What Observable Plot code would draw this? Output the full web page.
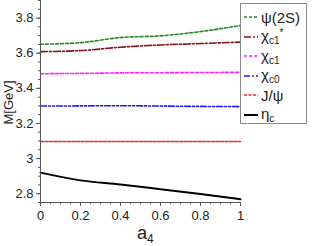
<!DOCTYPE html>
<html><head><meta charset="utf-8">
<script src="https://cdn.jsdelivr.net/npm/d3@7"></script>
<script src="https://cdn.jsdelivr.net/npm/@observablehq/plot@0.6"></script>
<style>
body{margin:0;background:#fff;font-family:"Liberation Sans",Arial,sans-serif;}
#wrap{position:relative;width:316px;height:246px;}
#legend{position:absolute;left:240px;top:3px;width:67px;height:121px;border:1px solid #8a8a8a;background:#fff;box-sizing:border-box;}
.row{position:absolute;left:0;height:20px;display:flex;align-items:center;font-size:15px;color:#222;white-space:nowrap;}
.row svg{margin-left:3px;margin-right:3px;}
.row sub{font-size:10px;vertical-align:-3px;}
.row sup{font-size:10px;vertical-align:5px;}
#xlab{position:absolute;left:137px;top:223px;font-size:18px;color:#222;}
#xlab sub{font-size:12px;vertical-align:-4px;}
#ylab{position:absolute;left:-22px;top:95px;height:15px;line-height:15px;font-size:13px;color:#222;transform:rotate(-90deg);transform-origin:center;width:60px;text-align:center;}
</style></head><body>
<div id="wrap"></div>
<script>
const xs = [0, 0.2, 0.4, 0.6, 0.8, 1];
const psi2S = [3.651, 3.660, 3.689, 3.699, 3.723, 3.758];
const chic1star = [3.609, 3.615, 3.634, 3.647, 3.655, 3.663];
const chic1 = [3.483, 3.485, 3.488, 3.489, 3.490, 3.491];
const chic0 = [3.299, 3.300, 3.301, 3.299, 3.297, 3.296];
const jpsi = [3.097, 3.097, 3.097, 3.097, 3.097, 3.097];
const etac = [2.920, 2.876, 2.853, 2.826, 2.798, 2.769];
const seriesNames = ["ψ(2S)", "χc1*", "χc1", "χc0", "J/ψ", "ηc"];
const seriesLabels = ["ψ(2S)", "χ<sub>c1</sub><sup>*</sup>", "χ<sub>c1</sub>", "χ<sub>c0</sub>", "J/ψ", "η<sub>c</sub>"];
const seriesValues = [psi2S, chic1star, chic1, chic0, jpsi, etac];
const colors = ["#1f8a1f", "#8b1010", "#ff22ff", "#1a1aff", "#ff2020", "#000000"];
const dashes = ["3,2", "7,2,2,2", "3,2", "6,2,2,2,2,2", "3,1.5", null];
const xTicks = [0, 0.2, 0.4, 0.6, 0.8, 1];
const yTicks = [2.8, 3, 3.2, 3.4, 3.6, 3.8];
const xMinor = d3.range(0, 1.0001, 0.05).map(v => +v.toFixed(2));
const yMinor = d3.range(2.75, 3.9001, 0.05).map(v => +v.toFixed(2));

const marks = [];
seriesValues.forEach((vals, i) => {
  const data = xs.map((x, j) => ({x, y: vals[j]}));
  marks.push(Plot.line(data, {x: "x", y: "y", curve: "monotone-x", stroke: colors[i],
    strokeWidth: i === 5 ? 2 : 1.6, strokeDasharray: dashes[i] || undefined}));
});
marks.push(Plot.axisX(xMinor, {tickSize: 2, text: null, label: null, stroke: "#555"}));
marks.push(Plot.axisY(yMinor, {tickSize: 2, text: null, label: null, stroke: "#555"}));
marks.push(Plot.axisX(xTicks, {tickSize: 4, tickPadding: 4, fontSize: 13, stroke: "#555", fill: "#222",
  tickFormat: d => String(d), label: null}));
marks.push(Plot.axisY(yTicks, {tickSize: 4, tickPadding: 3, fontSize: 13, stroke: "#555", fill: "#222",
  tickFormat: d => String(d), label: null}));
marks.push(Plot.ruleX([0], {stroke: "#555"}));
marks.push(Plot.ruleY([2.75], {stroke: "#555"}));

const chart = Plot.plot({
  width: 316, height: 246,
  marginLeft: 40, marginRight: 76, marginTop: 0, marginBottom: 44,
  x: {domain: [0, 1]},
  y: {domain: [2.75, 3.9]},
  style: {fontFamily: "Liberation Sans, Arial, sans-serif", fontSize: "13px", color: "#222"},
  marks
});
const wrap = document.getElementById("wrap");
wrap.appendChild(chart);

const xl = document.createElement("div");
xl.id = "xlab"; xl.innerHTML = "a<sub>4</sub>";
wrap.appendChild(xl);
const yl = document.createElement("div");
yl.id = "ylab"; yl.textContent = "M[GeV]";
wrap.appendChild(yl);

const leg = document.createElement("div");
leg.id = "legend";
seriesNames.forEach((n, i) => {
  const r = document.createElement("div");
  r.className = "row";
  r.style.top = (3 + i * 19.5) + "px";
  r.innerHTML = `<svg width="14" height="4"><line x1="0" y1="2" x2="14" y2="2" stroke="${colors[i]}" stroke-width="${i===5?2:1.6}" ${dashes[i] ? `stroke-dasharray="${dashes[i]}"` : ""}/></svg><span>${seriesLabels[i]}</span>`;
  leg.appendChild(r);
});
wrap.appendChild(leg);
</script></body></html>
